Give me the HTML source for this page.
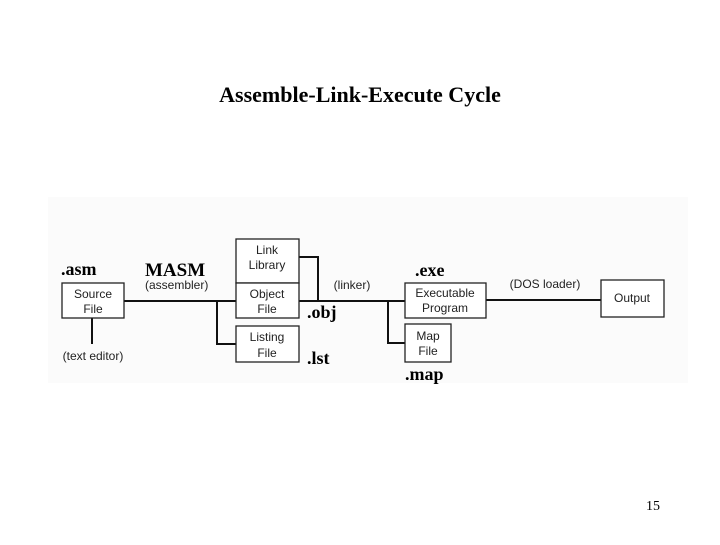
<!DOCTYPE html>
<html><head><style>
body{margin:0;width:720px;height:540px;background:#fff;overflow:hidden}
</style></head><body>
<svg width="720" height="540" xmlns="http://www.w3.org/2000/svg">
<rect x="48" y="197" width="640" height="186" fill="#fbfbfb"/>
<text x="360" y="102" text-anchor="middle" font-family="Liberation Serif, serif" font-size="22" font-weight="bold">Assemble-Link-Execute Cycle</text>
<g stroke="#111" stroke-width="2" fill="none">
<line x1="124" y1="301" x2="236" y2="301"/>
<line x1="92" y1="318" x2="92" y2="344"/>
<polyline points="217,301 217,344 236,344"/>
<polyline points="299,257 318,257 318,301"/>
<line x1="299" y1="301" x2="405" y2="301"/>
<polyline points="388,301 388,343 405,343"/>
<line x1="486" y1="300" x2="601" y2="300"/>
</g>
<g stroke="#222" stroke-width="1.3" fill="#fff">
<rect x="62" y="283" width="62" height="35"/>
<rect x="236" y="239" width="63" height="44"/>
<rect x="236" y="283" width="63" height="35"/>
<rect x="236" y="326" width="63" height="36"/>
<rect x="405" y="283" width="81" height="35"/>
<rect x="405" y="324" width="46" height="38"/>
<rect x="601" y="280" width="63" height="37"/>
</g>
<g font-family="Liberation Sans, sans-serif" font-size="12" fill="#222" text-anchor="middle">
<text x="93" y="298">Source</text><text x="93" y="313">File</text>
<text x="267" y="254">Link</text><text x="267" y="269">Library</text>
<text x="267" y="298">Object</text><text x="267" y="313">File</text>
<text x="267" y="341">Listing</text><text x="267" y="357">File</text>
<text x="445" y="297">Executable</text><text x="445" y="312">Program</text>
<text x="428" y="340">Map</text><text x="428" y="355">File</text>
<text x="632" y="302">Output</text>
<text x="93" y="360">(text editor)</text>
<text x="352" y="289">(linker)</text>
<text x="545" y="288">(DOS loader)</text>
</g>
<text x="145" y="289" font-family="Liberation Sans, sans-serif" font-size="12" fill="#222">(assembler)</text>
<g font-family="Liberation Serif, serif" font-size="18" font-weight="bold" fill="#000">
<text x="61" y="275">.asm</text>
<text x="307" y="318">.obj</text>
<text x="307" y="364">.lst</text>
<text x="415" y="276">.exe</text>
<text x="405" y="380">.map</text>
<text x="145" y="276" font-size="19">MASM</text>
</g>
<text x="646" y="510" font-family="Liberation Serif, serif" font-size="14">15</text>
</svg>
</body></html>
